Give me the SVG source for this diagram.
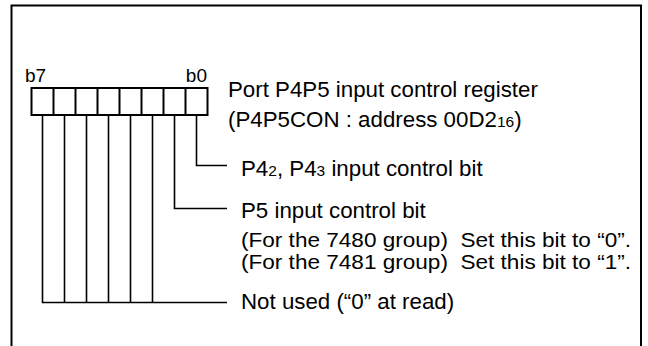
<svg xmlns="http://www.w3.org/2000/svg" width="648" height="346" viewBox="0 0 648 346">
<style>
.t{font-family:"Liberation Sans",Arial,sans-serif;font-size:22.3px;fill:#000;white-space:pre}
.g{font-size:21px}
.s{font-size:15.5px}
.ln{stroke:#000;stroke-width:1.6;fill:none}
.box{stroke:#000;stroke-width:2;fill:#fff}
</style>
<rect x="0" y="0" width="648" height="346" fill="#fff"/>
<g id="frame"><path class="ln" style="stroke-width:2" d="M11.5,350 V5.5 H641 V350"/></g>
<g id="register">
<rect class="box" x="31.5" y="88" width="176" height="27"/>
<path class="ln" style="stroke-width:2" d="M53.5,88V115M75.5,88V115M97.5,88V115M119.5,88V115M141.5,88V115M163.5,88V115M185.5,88V115"/>
<text class="t" x="25" y="82" style="font-size:19px">b7</text>
<text class="t" x="207" y="82" text-anchor="end" style="font-size:19px">b0</text>
<text class="t" x="228" y="97">Port P4P5 input control register</text>
<text class="t" x="228" y="127">(P4P5CON : address 00D2<tspan class="s">16</tspan>)</text>
</g>
<g id="connectors">
<path class="ln" d="M196.5,115V165.5H227"/>
<path class="ln" d="M174.5,115V208.5H227"/>
<path class="ln" d="M42.5,115V302.5H227M64.5,115V302.5M86.5,115V302.5M108.5,115V302.5M130.5,115V302.5M152.5,115V302.5"/>
</g>
<g id="bit0"><text class="t" x="241" y="176">P4<tspan class="s">2</tspan>, P4<tspan class="s">3</tspan> input control bit</text></g>
<g id="bit1">
<text class="t" x="241" y="218">P5 input control bit</text>
<text class="t g" x="241" y="246.5" xml:space="preserve" textLength="390" lengthAdjust="spacingAndGlyphs">(For the 7480 group)  Set this bit to “0”.</text>
<text class="t g" x="241" y="268.5" xml:space="preserve" textLength="390" lengthAdjust="spacingAndGlyphs">(For the 7481 group)  Set this bit to “1”.</text>
</g>
<g id="bits27"><text class="t" x="241" y="309">Not used (“0” at read)</text></g>
</svg>
